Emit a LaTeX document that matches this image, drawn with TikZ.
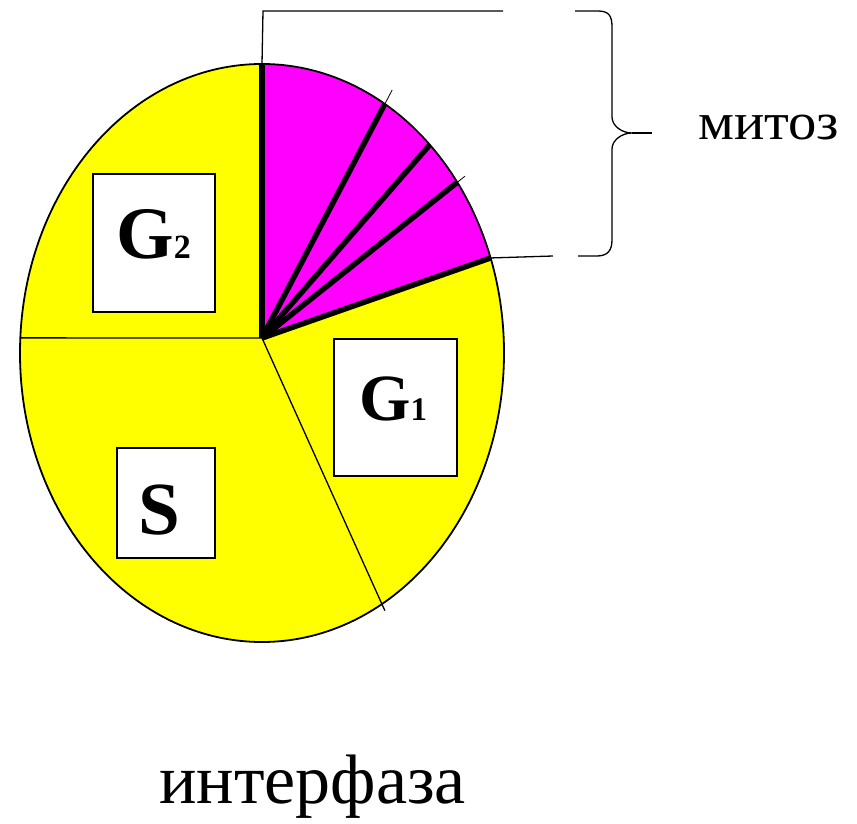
\documentclass[tikz,border=0pt]{standalone}
\usepackage{fontspec}
\setmainfont{Liberation Serif}
\usetikzlibrary{calc}
\definecolor{pieyellow}{RGB}{255,255,0}
\definecolor{piemagenta}{RGB}{255,0,255}
\tikzset{
  outline/.style={line width=1.8pt},
  spoke/.style={line width=5.5pt},
  thinline/.style={line width=1.3pt},
  labelbox/.style={draw, line width=1.8pt, fill=white, inner sep=0pt},
  phase/.style={anchor=base west, inner sep=0pt},
}
\begin{document}
\begin{tikzpicture}[x=1pt,y=-1pt]
\useasboundingbox (0,0) rectangle (857,824);
% geometry
\coordinate (O) at (262,338);
\coordinate (E) at (262,353);
\path (E) ++(-90:242 and 289) coordinate (T);
\path (E) ++(-59.5:242 and 289) coordinate (P1);
\path (E) ++(-46.1:242 and 289) coordinate (P2);
\path (E) ++(-36.2:242 and 289) coordinate (P3);
\path (E) ++(-19.2:242 and 289) coordinate (P4);
\path (E) ++(183:242 and 289) coordinate (L);
\path (E) ++(60.3:242 and 289) coordinate (B);
\coordinate (TT) at (263,11);
\coordinate (TR) at (503,11);
\coordinate (BR) at (553,256);
% fills
\fill[pieyellow] (E) ellipse[x radius=242, y radius=289];
\fill[piemagenta] (O) -- (T) arc[start angle=-90, end angle=-19.2, x radius=242, y radius=289] -- cycle;
\draw[outline] (E) ellipse[x radius=242, y radius=289];
% division lines
\draw[thinline] (O) -- (L);
\draw[thinline] (O) -- ($(O)!1.025!(B)$);
\draw[spoke] (O) -- (P1);
\draw[spoke] (O) -- (P2);
\draw[spoke] (O) -- (P3);
\draw[spoke] (O) -- (P4);
\draw[spoke] (O) -- (T);
\draw[line width=0.8pt] (P1) -- ($(O)!1.06!(P1)$);
\draw[line width=0.8pt] (P3) -- ($(O)!1.04!(P3)$);
% bracket lines
\draw[thinline] (T) -- (TT) -- (TR);
\draw[thinline] (P4) -- (BR);
% brace
\draw[thinline] (575,11) -- (598,11) .. controls (609,11) and (612,16) .. (612,27) -- (612,117)
  .. controls (612,126) and (622,133) .. (632,133)
  .. controls (622,133) and (612,140) .. (612,149) -- (612,240)
  .. controls (612,251) and (607,256) .. (597,256) -- (578,256);
\draw[thinline] (632,133) -- (652,133);
% boxes
\node[labelbox, minimum width=122, minimum height=138] (g2box) at (154,243) {};
\node[labelbox, minimum width=123, minimum height=137] (g1box) at (395.5,407.5) {};
\node[labelbox, minimum width=98, minimum height=110] (sbox) at (166,503) {};
% labels
\node[phase, font=\bfseries\fontsize{74}{74}\selectfont] (g2) at (116,258) {G{\fontsize{34}{34}\selectfont 2}};
\node[phase, font=\bfseries\fontsize{66}{66}\selectfont] (g1) at (359,420) {G{\fontsize{33}{33}\selectfont 1}};
\node[phase, font=\bfseries\fontsize{75}{75}\selectfont] (s) at (138,534) {S};
\node[phase, font=\fontsize{52}{52}\selectfont] (mitoz) at (698,140) {\scalebox{1.09}[1]{митоз}};
\node[phase, font=\fontsize{70}{70}\selectfont] (inter) at (159,803) {интерфаза};
\end{tikzpicture}
\end{document}
